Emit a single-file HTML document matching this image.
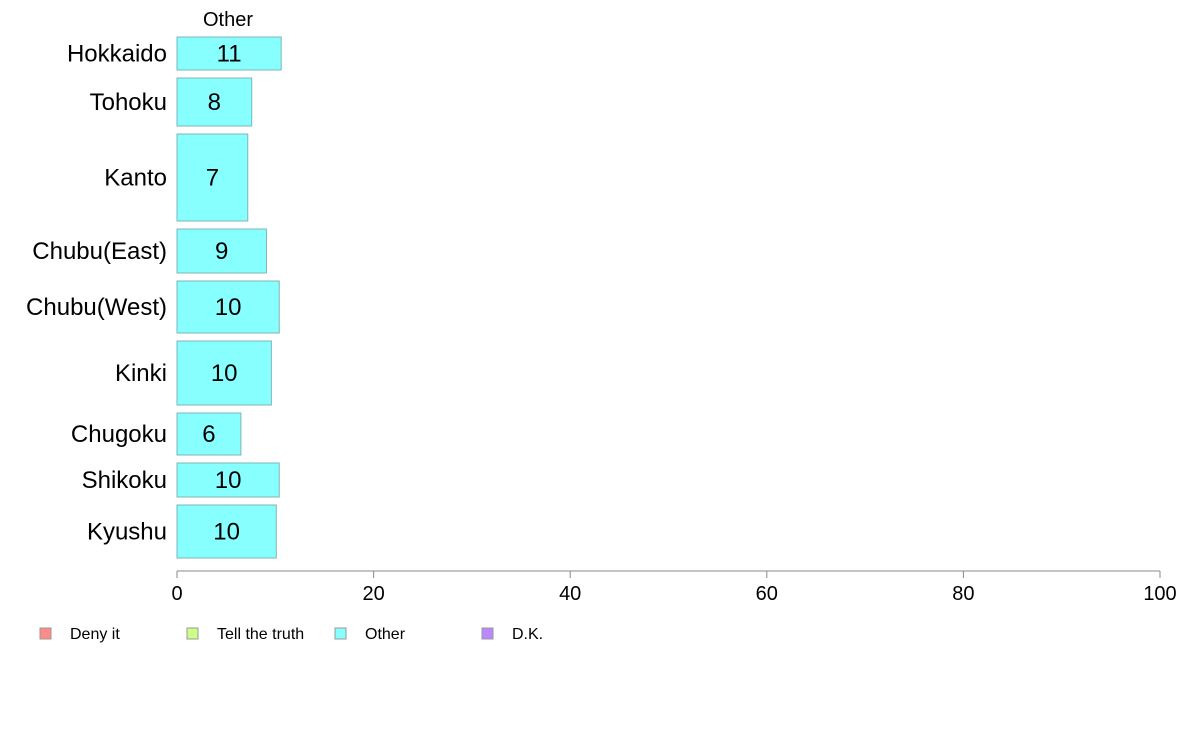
<!DOCTYPE html>
<html><head><meta charset="utf-8"><style>
html,body{margin:0;padding:0;background:#fff;}
svg{display:block;font-family:"Liberation Sans",Arial,sans-serif;}
</style></head><body>
<svg id="chart" width="1188" height="736" viewBox="0 0 1188 736"></svg>
<script>
const categories=["Hokkaido","Tohoku","Kanto","Chubu(East)","Chubu(West)","Kinki","Chugoku","Shikoku","Kyushu"];
const otherValues=[10.6,7.6,7.2,9.1,10.4,9.6,6.5,10.4,10.1];
const otherLabels=["11","8","7","9","10","10","6","10","10"];
const sampleWeights=[33,48,87,44,52,64,42,34,53];
const xTicks=[0,20,40,60,80,100];
const legendItems=["Deny it","Tell the truth","Other","D.K."];
const legendColors=["#ff8a8a","#ccff88","#88ffff","#bb88ff"];

const svg=document.getElementById('chart');
const NS='http://www.w3.org/2000/svg';
function mk(t,a){const e=document.createElementNS(NS,t);for(const k in a)e.setAttribute(k,a[k]);svg.appendChild(e);return e;}
const x0=177,x1=1160,plotTop=37,plotBottom=558,gap=8;
const xs=v=>x0+(v/100)*(x1-x0);
const totalW=sampleWeights.reduce((a,b)=>a+b,0);
const avail=(plotBottom-plotTop)-gap*(categories.length-1);
let yy=plotTop;
const hdr=mk('text',{x:228,y:26,'text-anchor':'middle','font-size':20,fill:'#000'});
hdr.textContent='Other';


categories.forEach((c,i)=>{
  const h=sampleWeights[i]/totalW*avail;
  const r=mk('rect',{x:x0,y:yy,width:xs(otherValues[i])-x0,height:h,fill:'#88ffff',stroke:'#7fb5b5','stroke-width':1});
  
  
  const l=mk('text',{x:167,y:yy+h/2+8,'text-anchor':'end','font-size':24,fill:'#000'});
  l.textContent=c;
  
  
  const v=mk('text',{x:(x0+xs(otherValues[i]))/2,y:yy+h/2+8,'text-anchor':'middle','font-size':24,fill:'#000'});
  v.textContent=otherLabels[i];
  
  
  yy+=h+gap;
});
const ax=mk('line',{x1:x0,y1:571,x2:x1,y2:571,stroke:'#888','stroke-width':1});


xTicks.forEach(v=>{
  const tk=mk('line',{x1:xs(v),y1:571,x2:xs(v),y2:578,stroke:'#888','stroke-width':1});
  
  
  const tl=mk('text',{x:xs(v),y:600,'text-anchor':'middle','font-size':20,fill:'#000'});
  tl.textContent=String(v);
  
  
});
const lx=[40,187,335,482];
legendItems.forEach((n,i)=>{
  const b=mk('rect',{x:lx[i],y:628,width:11,height:11,fill:legendColors[i],stroke:'#999','stroke-width':1});
  
  
  const tx=mk('text',{x:lx[i]+30,y:639,'font-size':16,fill:'#000'});
  tx.textContent=n;
  
  
});
</script>
</body></html>
